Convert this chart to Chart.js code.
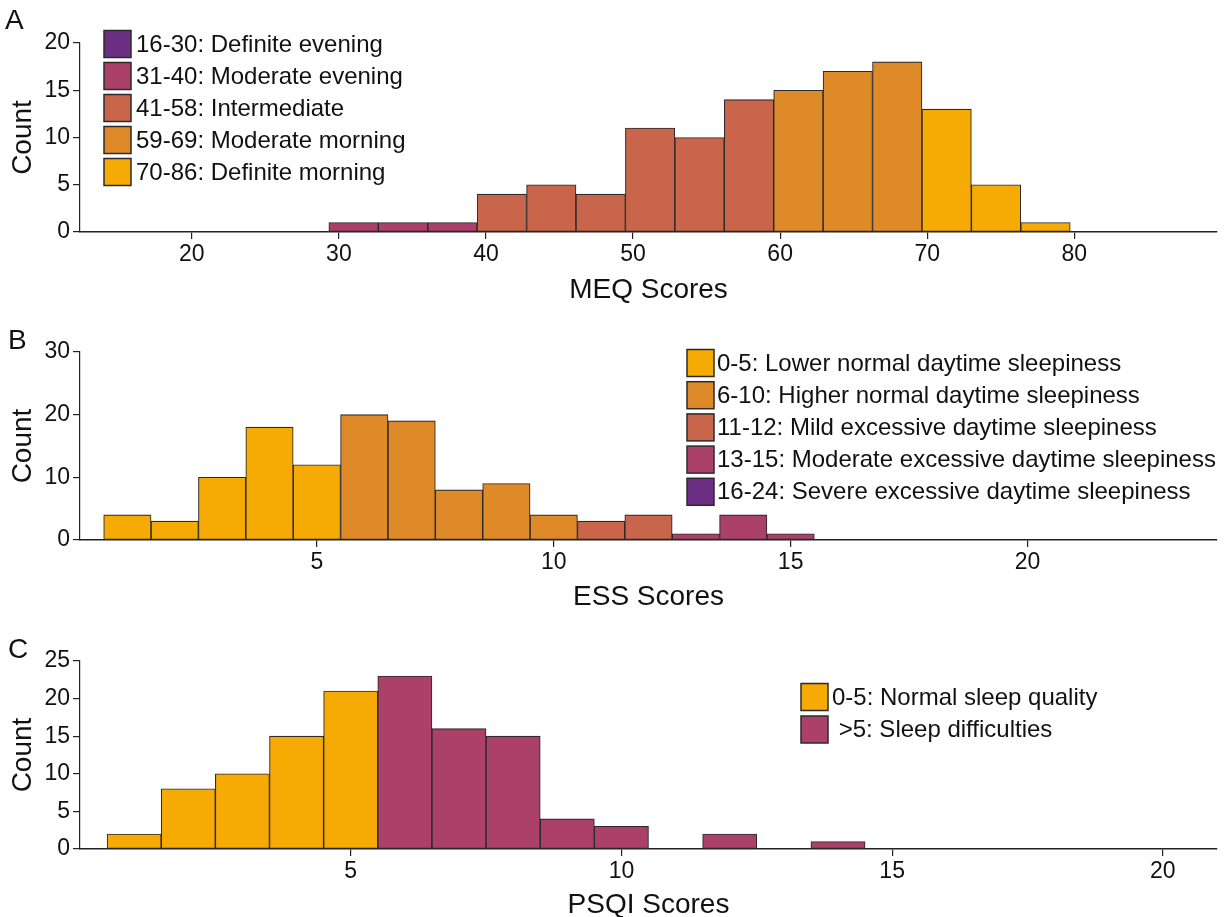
<!DOCTYPE html>
<html>
<head>
<meta charset="utf-8">
<script src="https://cdn.jsdelivr.net/npm/chart.js@4.4.1/dist/chart.umd.min.js"></script>
<style>
  html, body { margin: 0; padding: 0; background: #fff; }
  body { width: 1225px; height: 917px; position: relative; overflow: hidden; }
  canvas { position: absolute; left: 0; }
</style>
</head>
<body>
<canvas id="meq"  width="1225" height="310" style="top:0"></canvas>
<canvas id="ess"  width="1225" height="310" style="top:310px"></canvas>
<canvas id="psqi" width="1225" height="307" style="top:610px"></canvas>
<script>
"use strict";

// ----- data ---------------------------------------------------------------- //
// bin centres + counts
const MEQ_BINS   = [31.0, 34.36, 37.72, 41.08, 44.44, 47.8, 51.16, 54.52, 57.88, 61.24, 64.6, 67.96, 71.32, 74.68, 78.04];
const MEQ_COUNTS = [1, 1, 1, 4, 5, 4, 11, 10, 14, 15, 17, 18, 13, 5, 1];
const MEQ_TICKS  = [20, 30, 40, 50, 60, 70, 80];
const MEQ_GROUPS = ["16-30: Definite evening", "31-40: Moderate evening", "41-58: Intermediate",
                    "59-69: Moderate morning", "70-86: Definite morning"];
const MEQ_GROUP_MAX = [30, 40, 58, 69, 86];

const ESS_BINS   = [1, 2, 3, 4, 5, 6, 7, 8, 9, 10, 11, 12, 13, 14, 15];
const ESS_COUNTS = [4, 3, 10, 18, 12, 20, 19, 8, 9, 4, 3, 4, 1, 4, 1];
const ESS_TICKS  = [5, 10, 15, 20];
const ESS_GROUPS = ["0-5: Lower normal daytime sleepiness", "6-10: Higher normal daytime sleepiness",
                    "11-12: Mild excessive daytime sleepiness", "13-15: Moderate excessive daytime sleepiness",
                    "16-24: Severe excessive daytime sleepiness"];
const ESS_GROUP_MAX = [5, 10, 12, 15, 24];

const PSQI_BINS   = [1, 2, 3, 4, 5, 6, 7, 8, 9, 10, 11, 12, 13, 14];
const PSQI_COUNTS = [2, 8, 10, 15, 21, 23, 16, 15, 4, 3, 0, 2, 0, 1];
const PSQI_TICKS  = [5, 10, 15, 20];
const PSQI_GROUPS = ["0-5: Normal sleep quality", " >5: Sleep difficulties"];
const PSQI_GROUP_MAX = [5, 21];

// ----- styling ------------------------------------------------------------- //
const C_DEF_EVE  = "#6d2f83";
const C_MOD_EVE  = "#ab4069";
const C_INTER    = "#c8654a";
const C_MOD_MORN = "#df8a29";
const C_DEF_MORN = "#f6aa04";
const EDGE = "#2e2a2a";
const FONT = "'Liberation Sans', Arial, Helvetica, sans-serif";

Chart.defaults.font.family = FONT;
Chart.defaults.color = "#111";

function groupColor(v, maxes, palette) {
  for (let i = 0; i < maxes.length; i++) {
    if (v <= maxes[i] + 0.5) return palette[i];
  }
  return palette[palette.length - 1];
}

// letter + legend boxes drawn straight onto the canvas
const panelDecor = {
  id: "panelDecor",
  afterDraw(chart, args, o) {
    const ctx = chart.ctx;
    ctx.save();
    ctx.fillStyle = "#111";
    ctx.textBaseline = "middle";
    ctx.textAlign = "left";
    ctx.font = `28px ${FONT}`;
    ctx.fillText(o.letter, o.letterX, o.letterY);

    ctx.font = `24px ${FONT}`;
    o.items.forEach((label, i) => {
      const cy = o.legendY + i * o.rowH;
      ctx.fillStyle = o.colors[i];
      ctx.fillRect(o.legendX, cy - o.box / 2, o.box, o.box);
      ctx.strokeStyle = EDGE;
      ctx.lineWidth = 1.5;
      ctx.strokeRect(o.legendX, cy - o.box / 2, o.box, o.box);
      ctx.fillStyle = "#111";
      ctx.fillText(label, o.textX, cy + 1);
    });
    ctx.restore();
  },
};

function makeHist(id, cfg) {
  const colors = cfg.bins.map(b => groupColor(b, cfg.groupMax, cfg.palette));
  return new Chart(document.getElementById(id), {
    type: "bar",
    data: {
      datasets: [{
        data: cfg.bins.map((b, i) => ({ x: b, y: cfg.counts[i] })),
        backgroundColor: colors,
        borderColor: EDGE,
        borderWidth: 1.1,
        borderSkipped: false,
        barPercentage: 1,
        categoryPercentage: 1,
      }],
    },
    options: {
      responsive: false,
      animation: false,
      events: [],
      layout: { padding: { top: cfg.top, right: 8, left: 0, bottom: 0 } },
      plugins: {
        legend: { display: false },
        tooltip: { enabled: false },
        panelDecor: cfg.decor,
      },
      scales: {
        x: {
          type: "linear",
          offset: false,
          min: cfg.xMin,
          max: cfg.xMax,
          afterBuildTicks: s => { s.ticks = cfg.ticks.map(v => ({ value: v })); },
          afterFit: s => { s.height = cfg.xAxisH; },
          grid: { offset: false, drawOnChartArea: false, drawTicks: true, tickLength: 7, color: "#222", lineWidth: 1.2 },
          border: { display: true, color: "#222", width: 1.5 },
          ticks: { font: { size: 23 }, padding: 2, maxRotation: 0, color: "#111" },
          title: { display: true, text: cfg.xTitle, font: { size: 28 }, color: "#111",
                   padding: { top: 0, bottom: cfg.titlePad } },
        },
        y: {
          min: 0,
          max: cfg.yMax,
          afterFit: s => { s.width = 80; },
          grid: { drawOnChartArea: false, drawTicks: true, tickLength: 7, color: "#222", lineWidth: 1.2 },
          border: { display: true, color: "#222", width: 1.2 },
          ticks: { stepSize: cfg.yStep, font: { size: 23 }, padding: 3, color: "#111" },
          title: { display: true, text: "Count", font: { size: 28 }, color: "#111",
                   padding: { top: 6, bottom: 0 } },
        },
      },
    },
    plugins: [panelDecor],
  });
}

makeHist("meq", {
  bins: MEQ_BINS, counts: MEQ_COUNTS, ticks: MEQ_TICKS,
  groupMax: MEQ_GROUP_MAX,
  palette: [C_DEF_EVE, C_MOD_EVE, C_INTER, C_MOD_MORN, C_DEF_MORN],
  xMin: 12.4, xMax: 89.7, yMax: 20, yStep: 5,
  xTitle: "MEQ Scores", top: 43, xAxisH: 78, titlePad: 3,
  decor: { letter: "A", letterX: 5, letterY: 21,
           items: MEQ_GROUPS, colors: [C_DEF_EVE, C_MOD_EVE, C_INTER, C_MOD_MORN, C_DEF_MORN],
           legendX: 104, legendY: 44, rowH: 32, box: 27, textX: 136 },
});

makeHist("ess", {
  bins: ESS_BINS, counts: ESS_COUNTS, ticks: ESS_TICKS,
  groupMax: ESS_GROUP_MAX,
  palette: [C_DEF_MORN, C_MOD_MORN, C_INTER, C_MOD_EVE, C_DEF_EVE],
  xMin: 0, xMax: 24, yMax: 30, yStep: 10,
  xTitle: "ESS Scores", top: 42, xAxisH: 80, titlePad: 6,
  decor: { letter: "B", letterX: 8, letterY: 31,
           items: ESS_GROUPS, colors: [C_DEF_MORN, C_MOD_MORN, C_INTER, C_MOD_EVE, C_DEF_EVE],
           legendX: 687, legendY: 53, rowH: 32.2, box: 27, textX: 717 },
});

makeHist("psqi", {
  bins: PSQI_BINS, counts: PSQI_COUNTS, ticks: PSQI_TICKS,
  groupMax: PSQI_GROUP_MAX,
  palette: [C_DEF_MORN, C_MOD_EVE],
  xMin: 0, xMax: 21, yMax: 25, yStep: 5,
  xTitle: "PSQI Scores", top: 51, xAxisH: 68, titlePad: -5,
  decor: { letter: "C", letterX: 8, letterY: 40,
           items: PSQI_GROUPS, colors: [C_DEF_MORN, C_MOD_EVE],
           legendX: 801, legendY: 87, rowH: 32.5, box: 27, textX: 832 },
});
</script>
</body>
</html>
